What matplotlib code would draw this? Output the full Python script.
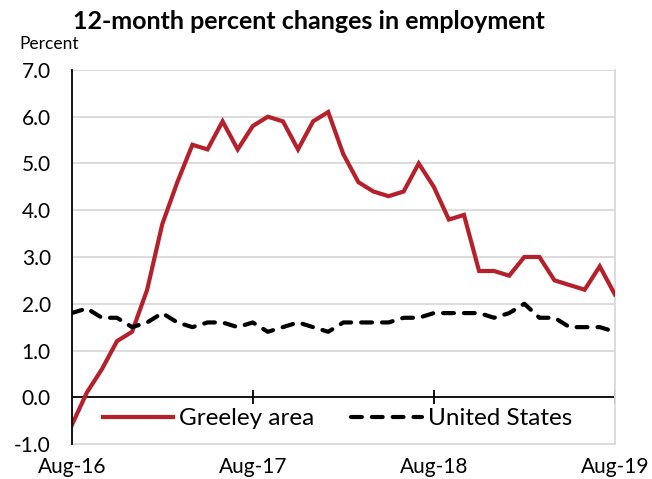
"""12-month percent changes in employment: Greeley area vs United States, Aug-16 to Aug-19."""
import matplotlib
matplotlib.use("Agg")
import matplotlib.pyplot as plt  # noqa: E402

plt.rcParams["font.family"] = ["Lato", "DejaVu Sans"]

months = list(range(37))  # Aug-16 ... Aug-19, monthly
greeley = [-0.6, 0.1, 0.6, 1.2, 1.4, 2.3, 3.7, 4.6, 5.4, 5.3, 5.9, 5.3,
           5.8, 6.0, 5.9, 5.3, 5.9, 6.1, 5.2, 4.6, 4.4, 4.3, 4.4, 5.0,
           4.5, 3.8, 3.9, 2.7, 2.7, 2.6, 3.0, 3.0, 2.5, 2.4, 2.3, 2.8, 2.2]
united_states = [1.8, 1.9, 1.7, 1.7, 1.5, 1.6, 1.8, 1.6, 1.5, 1.6, 1.6, 1.5,
                 1.6, 1.4, 1.5, 1.6, 1.5, 1.4, 1.6, 1.6, 1.6, 1.6, 1.7, 1.7,
                 1.8, 1.8, 1.8, 1.8, 1.7, 1.8, 2.0, 1.7, 1.7, 1.5, 1.5, 1.5, 1.4]
xtick_pos = [0, 12, 24, 36]
xtick_labels = ["Aug-16", "Aug-17", "Aug-18", "Aug-19"]
yticks = [-1, 0, 1, 2, 3, 4, 5, 6, 7]

fig = plt.figure(figsize=(6.52, 4.79), dpi=100)
ax = fig.add_axes([0.110, 0.073, 0.833, 0.781])

ax.plot(months, greeley, color="#b5202a", lw=3.0, solid_joinstyle="miter",
        label="Greeley area", zorder=3)
ax.plot(months, united_states, color="black", lw=3.0, ls=(0, (2.6, 2.4)),
        dash_capstyle="round", label="United States", zorder=3)

ax.set_xlim(0, 36)
ax.set_ylim(-1, 7)
ax.set_yticks(yticks)
ax.set_yticklabels([f"{v:.1f}" for v in yticks], fontsize=15)
ax.tick_params(axis="y", length=0, pad=15)
for v in yticks[2:]:
    ax.axhline(v, color="#d9d9d9", lw=1.3, zorder=1)

# zero line acts as the category axis, with cross ticks at each August
ax.axhline(0, color="black", lw=1.3, zorder=2)
ax.vlines(xtick_pos[1:], -0.15, 0.15, color="black", lw=1.3, zorder=2)

ax.spines["top"].set_visible(False)
for side in ("right", "bottom"):
    ax.spines[side].set_color("#d9d9d9")
    ax.spines[side].set_linewidth(1.3)
ax.spines["left"].set_color("black")
ax.spines["left"].set_linewidth(1.3)
ax.spines["left"].set_zorder(4)

ax.set_xticks(xtick_pos)
ax.set_xticklabels(xtick_labels, fontsize=15)
ax.tick_params(axis="x", length=0, pad=9)

ax.legend(loc="center", bbox_to_anchor=(0.489, 0.067), ncol=2, frameon=False,
          fontsize=17.5, handlelength=2.9, columnspacing=1.5, handletextpad=0.25,
          borderpad=0, borderaxespad=0)

fig.text(0.112, 0.955, "12-month percent changes in employment", fontsize=18,
         fontweight="bold", va="center")
fig.text(0.030, 0.908, "Percent", fontsize=12.5, va="center")

fig.savefig("out.png", dpi=100)
